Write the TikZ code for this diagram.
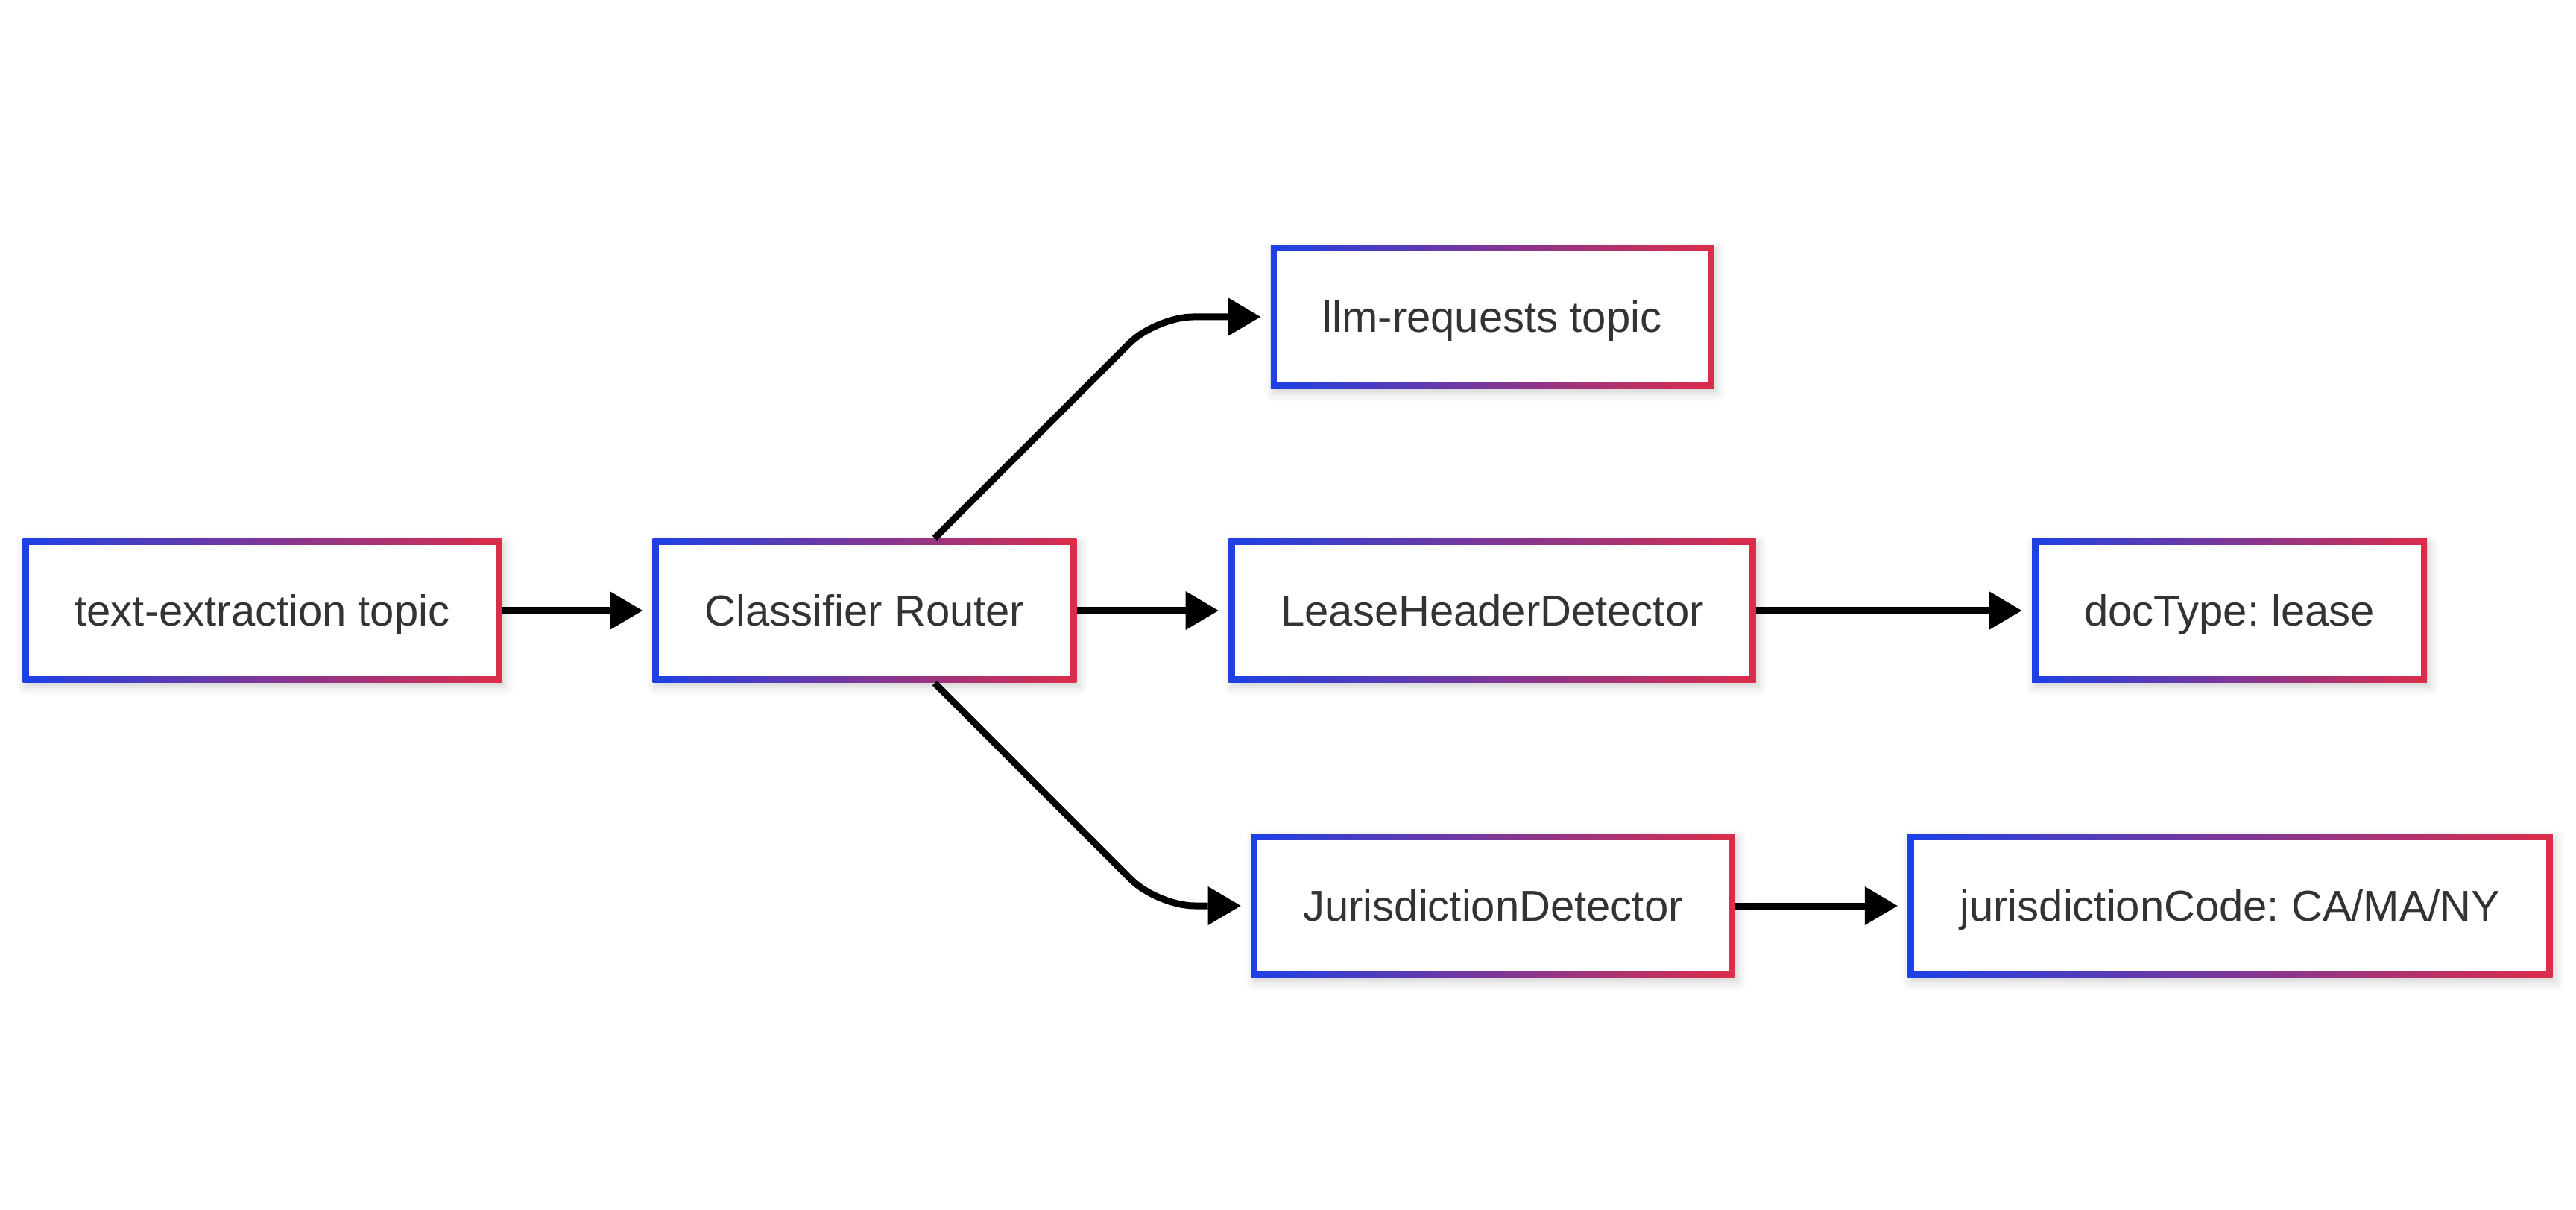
\documentclass[tikz,border=0pt]{standalone}
\usepackage{fontspec}
\setmainfont{Liberation Sans}
\usepackage{tikz}
\usetikzlibrary{arrows.meta, calc, shadows.blur}
\definecolor{edgeblue}{HTML}{1D41E6}
\definecolor{edgered}{HTML}{DC2D4A}
\definecolor{labeltext}{HTML}{333333}
\frenchspacing

\begin{document}
\begin{tikzpicture}[
  topicbox/.style={rectangle, left color=edgeblue, right color=edgered,
                   inner xsep=7mm, inner ysep=0pt, minimum height=19.3mm,
                   text height=11.9pt, text depth=0pt,
                   text=labeltext, font=\fontsize{16.5pt}{20pt}\selectfont,
                   path picture={\fill[white]
                     ([shift={(0.85mm,0.85mm)}]path picture bounding box.south west) rectangle
                     ([shift={(-0.85mm,-0.85mm)}]path picture bounding box.north east);},
                   blur shadow={shadow xshift=0.4mm, shadow yshift=-0.6mm,
                                shadow blur radius=1.2mm, shadow opacity=18}},
  flow/.style={line width=0.9mm, line join=round,
               -{Triangle[length=4.4mm, width=5.2mm, line width=0pt]},
               shorten >=1.3mm},
]
\useasboundingbox (0,0) rectangle (34.56,16.22);

\node[topicbox] (textx)   at (3.52, 8.03)  {text-extraction topic};
\node[topicbox] (router)  at (11.60, 8.03) {Classifier Router};
\node[topicbox] (llmreq)  at (20.02, 11.97) {llm-requests topic};
\node[topicbox] (lease)   at (20.02, 8.03) {LeaseHeaderDetector};
\node[topicbox] (doctype) at (29.91, 8.03) {docType: lease};
\node[topicbox] (juris)   at (20.03, 4.07) {JurisdictionDetector};
\node[topicbox] (jcode)   at (29.92, 4.07) {jurisdictionCode: CA/MA/NY};

\coordinate (rtop) at ([xshift=9.4mm]router.north);
\coordinate (rbot) at ([xshift=9.4mm]router.south);

\draw[flow] (textx) -- (router);
\draw[flow] (router) -- (lease);
\draw[flow] (lease) -- (doctype);
\draw[flow] (juris) -- (jcode);
\draw[flow, rounded corners=5mm] let \p1=(rtop), \p2=(llmreq.west) in
  (\p1) -- ({\x1+\y2-\y1},\y2) -- (\p2);
\draw[flow, rounded corners=5mm] let \p1=(rbot), \p2=(juris.west) in
  (\p1) -- ({\x1+\y1-\y2},\y2) -- (\p2);

\end{tikzpicture}
\end{document}
